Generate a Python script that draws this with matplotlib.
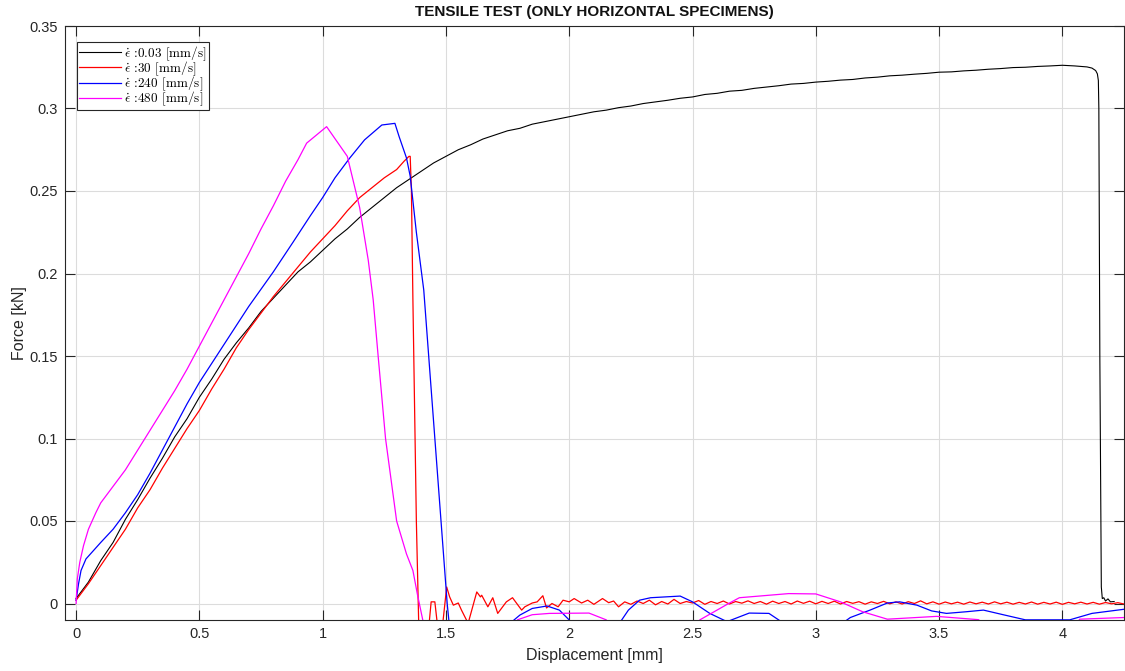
import matplotlib
matplotlib.use("Agg")
import matplotlib.pyplot as plt
from matplotlib.ticker import FuncFormatter, MultipleLocator

plt.rcParams['font.family'] = ['Liberation Sans', 'DejaVu Sans']
plt.rcParams['mathtext.fontset'] = 'cm'

# ---------------- data ----------------
labels = [r'$\dot{\epsilon}$ :0.03 [mm/s]',
          r'$\dot{\epsilon}$ :30 [mm/s]',
          r'$\dot{\epsilon}$ :240 [mm/s]',
          r'$\dot{\epsilon}$ :480 [mm/s]']
colors = ['#000000', '#ff0000', '#0000ff', '#ff00ff']

x_003 = [0.00, 0.05, 0.10, 0.15, 0.20, 0.25, 0.30, 0.35, 0.40, 0.45,
         0.50, 0.55, 0.60, 0.65, 0.70, 0.75, 0.80, 0.85, 0.90, 0.95,
         1.00, 1.05, 1.10, 1.15, 1.20, 1.25, 1.30, 1.35, 1.40, 1.45,
         1.50, 1.55, 1.60, 1.65, 1.70, 1.75, 1.80, 1.85, 1.90, 1.95,
         2.00, 2.05, 2.10, 2.15, 2.20, 2.25, 2.30, 2.35, 2.40, 2.45,
         2.50, 2.55, 2.60, 2.65, 2.70, 2.75, 2.80, 2.85, 2.90, 2.95,
         3.00, 3.05, 3.10, 3.15, 3.20, 3.25, 3.30, 3.35, 3.40, 3.45,
         3.50, 3.55, 3.60, 3.65, 3.70, 3.75, 3.80, 3.85, 3.90, 3.95,
         4.00, 4.05, 4.10, 4.12, 4.135, 4.142, 4.146, 4.148, 4.152, 4.158,
         4.162, 4.168, 4.175, 4.185, 4.195, 4.21]
f_003 = [0.003, 0.013, 0.026, 0.037, 0.051, 0.063, 0.076, 0.088, 0.101, 0.112,
         0.125, 0.136, 0.148, 0.158, 0.167, 0.177, 0.185, 0.193, 0.201, 0.207,
         0.214, 0.221, 0.227, 0.234, 0.240, 0.246, 0.252, 0.257, 0.262, 0.267,
         0.271, 0.275, 0.278, 0.2815, 0.284, 0.2865, 0.288, 0.2905, 0.292, 0.2935,
         0.295, 0.2965, 0.298, 0.299, 0.3005, 0.3015, 0.303, 0.304, 0.305, 0.3062,
         0.307, 0.3085, 0.3092, 0.3105, 0.311, 0.3122, 0.313, 0.3138, 0.3148, 0.3152,
         0.316, 0.3165, 0.3172, 0.3176, 0.3185, 0.319, 0.3198, 0.3202, 0.3208, 0.3213,
         0.322, 0.3222, 0.3228, 0.3232, 0.3238, 0.3242, 0.3248, 0.3250, 0.3255, 0.3258,
         0.3262, 0.3258, 0.3252, 0.3245, 0.323, 0.321, 0.317, 0.300, 0.150, 0.010,
         0.003, 0.0035, 0.0015, 0.0028, 0.001, 0.0012]

x_30 = [0.00, 0.05, 0.10, 0.15, 0.20, 0.25, 0.30, 0.35, 0.40, 0.45,
        0.50, 0.55, 0.60, 0.65, 0.70, 0.75, 0.80, 0.85, 0.90, 0.95,
        1.00, 1.05, 1.10, 1.15, 1.20, 1.25, 1.30, 1.33, 1.35, 1.355,
        1.36, 1.366, 1.38, 1.39, 1.43, 1.44, 1.455, 1.467, 1.485, 1.503,
        1.515, 1.53, 1.55, 1.563, 1.59, 1.625, 1.64, 1.645, 1.67, 1.69,
        1.71, 1.745, 1.77, 1.807, 1.82, 1.85, 1.87, 1.893, 1.908, 1.93,
        1.955, 1.975, 2.00, 2.02, 2.05, 2.075, 2.10, 2.135, 2.16, 2.18,
        2.20, 2.225, 2.25, 2.275, 2.30, 2.325, 2.35, 2.375, 2.40, 2.425,
        2.45, 2.475, 2.50, 2.525, 2.55, 2.575, 2.60, 2.625, 2.65, 2.675,
        2.70, 2.725, 2.75, 2.775, 2.80, 2.825, 2.85, 2.875, 2.90, 2.925,
        2.95, 2.975, 3.00, 3.025, 3.05, 3.075, 3.10, 3.125, 3.15, 3.175,
        3.20, 3.225, 3.25, 3.275, 3.30, 3.325, 3.35, 3.375, 3.40, 3.425,
        3.45, 3.475, 3.50, 3.525, 3.55, 3.575, 3.60, 3.625, 3.65, 3.675,
        3.70, 3.725, 3.75, 3.775, 3.80, 3.825, 3.85, 3.875, 3.90, 3.925,
        3.95, 3.975, 4.00, 4.025, 4.05, 4.075, 4.10, 4.125, 4.15, 4.175,
        4.20, 4.225, 4.25]
f_30 = [0.002, 0.012, 0.023, 0.034, 0.045, 0.058, 0.069, 0.082, 0.094, 0.106,
        0.117, 0.130, 0.142, 0.155, 0.166, 0.176, 0.186, 0.195, 0.204, 0.213,
        0.221, 0.229, 0.238, 0.246, 0.252, 0.258, 0.263, 0.268, 0.271, 0.271,
        0.250, 0.184, 0.050, -0.015, -0.015, 0.001, 0.001, -0.015, -0.015, 0.010,
        0.004, -0.001, 0.0003, -0.004, -0.012, 0.007, 0.004, 0.005, -0.002, 0.0035,
        -0.006, 0.001, 0.0035, -0.004, -0.002, 0.0003, 0.001, 0.0047, -0.0027, 0.0,
        -0.002, 0.002, 0.001, 0.003, 0.0003, 0.002, -0.0005, 0.003, 0.0005, 0.0015,
        -0.002, 0.001, -0.0005, 0.0015, 0.0, 0.002, -0.0008, 0.0012, -0.0003, 0.0025,
        0.0, 0.0012, 0.0003, 0.0018, -0.0005, 0.0012, 0.0, 0.0015, -0.0003, 0.0012,
        0.0002, 0.0016, 0.0, 0.0012, -0.0004, 0.0014, 0.0, 0.0012, -0.0003, 0.0015,
        0.0001, 0.0014, -0.0002, 0.0013, 0.0, 0.0014, -0.0003, 0.0012, 0.0001, 0.0011,
        -0.0004, 0.0010, 0.0, 0.0013, -0.0002, 0.0010, -0.0003, 0.0011, 0.0, 0.0016,
        -0.0002, 0.0010, -0.0004, 0.0009, -0.0002, 0.0008, -0.0004, 0.0009, -0.0002, 0.0008,
        -0.0003, 0.0010, -0.0002, 0.0008, -0.0004, 0.0007, -0.0003, 0.0009, -0.0004, 0.0007,
        -0.0003, 0.0008, -0.0005, 0.0007, -0.0002, 0.0008, -0.0003, 0.0007, -0.0004, 0.0006,
        -0.0002, 0.0005, -0.0003]

x_240 = [0.00, 0.01, 0.02, 0.04, 0.07, 0.10, 0.15, 0.20, 0.25, 0.30,
         0.35, 0.40, 0.45, 0.50, 0.60, 0.70, 0.80, 0.88, 0.95, 1.00,
         1.05, 1.11, 1.17, 1.24, 1.293, 1.31, 1.34, 1.355, 1.38, 1.41,
         1.43, 1.455, 1.48, 1.505, 1.515, 1.60, 1.76, 1.80, 1.85, 1.91,
         1.96, 2.00, 2.02, 2.19, 2.24, 2.285, 2.33, 2.45, 2.50, 2.57,
         2.64, 2.73, 2.81, 2.86, 2.95, 3.08, 3.14, 3.22, 3.29, 3.34,
         3.41, 3.47, 3.53, 3.61, 3.68, 3.76, 3.85, 3.95, 4.03, 4.12,
         4.25]
f_240 = [0.002, 0.012, 0.020, 0.027, 0.032, 0.037, 0.045, 0.055, 0.066, 0.079,
         0.093, 0.107, 0.121, 0.134, 0.157, 0.180, 0.201, 0.219, 0.235, 0.246,
         0.258, 0.270, 0.281, 0.290, 0.291, 0.283, 0.270, 0.259, 0.225, 0.190,
         0.150, 0.100, 0.050, 0.000, -0.015, -0.015, -0.012, -0.007, -0.003, -0.0015,
         -0.004, -0.010, -0.015, -0.015, -0.004, 0.002, 0.0035, 0.0045, 0.001, -0.006,
         -0.011, -0.0058, -0.006, -0.011, -0.015, -0.015, -0.0085, -0.004, 0.0003, 0.001,
         -0.001, -0.0045, -0.006, -0.005, -0.004, -0.0068, -0.0099, -0.0099, -0.0099, -0.006,
         -0.0035]

x_480 = [0.00, 0.005, 0.015, 0.03, 0.05, 0.08, 0.10, 0.15, 0.20, 0.25,
         0.30, 0.35, 0.40, 0.45, 0.50, 0.55, 0.60, 0.65, 0.70, 0.75,
         0.80, 0.85, 0.90, 0.935, 1.016, 1.10, 1.15, 1.185, 1.205, 1.225,
         1.255, 1.30, 1.34, 1.366, 1.385, 1.406, 1.42, 1.78, 1.79, 1.85,
         1.92, 2.08, 2.15, 2.17, 2.50, 2.53, 2.65, 2.69, 2.89, 3.00,
         3.10, 3.19, 3.29, 3.49, 3.66, 3.70, 4.05, 4.07, 4.25]
f_480 = [0.000, 0.015, 0.025, 0.035, 0.045, 0.055, 0.061, 0.071, 0.081, 0.093,
         0.105, 0.117, 0.129, 0.142, 0.156, 0.170, 0.184, 0.198, 0.212, 0.227,
         0.241, 0.256, 0.269, 0.279, 0.289, 0.271, 0.240, 0.208, 0.184, 0.150,
         0.100, 0.050, 0.030, 0.020, 0.005, -0.010, -0.015, -0.015, -0.0099, -0.0068,
         -0.006, -0.0058, -0.0099, -0.015, -0.015, -0.0099, 0.0003, 0.0035, 0.006, 0.0058,
         0.001, -0.005, -0.0095, -0.0078, -0.0098, -0.015, -0.015, -0.0095, -0.0085]

xs = [x_003, x_30, x_240, x_480]
fs = [f_003, f_30, f_240, f_480]
widths = [0.8, 0.9, 0.9, 0.9]

title = 'TENSILE TEST (ONLY HORIZONTAL SPECIMENS)'
xlabel = 'Displacement [mm]'
ylabel = 'Force [kN]'

# ---------------- figure ----------------
txt = '#262626'
fig = plt.figure(figsize=(11.25, 6.71), dpi=100)
ax = fig.add_axes([65 / 1125, 51 / 671, 1059 / 1125, 594 / 671])

for x, f, c, lab, lw in zip(xs, fs, colors, labels, widths):
    ax.plot(x, f, color=c, lw=lw, label=lab)

ax.set_xlim(-0.045, 4.25)
ax.set_ylim(-0.01, 0.35)
ax.xaxis.set_major_locator(MultipleLocator(0.5))
ax.yaxis.set_major_locator(MultipleLocator(0.05))
fmt = FuncFormatter(lambda v, p: ('%g' % round(v, 4)))
ax.xaxis.set_major_formatter(fmt)
ax.yaxis.set_major_formatter(fmt)

ax.grid(True, color='#dcdcdc', lw=0.8)
ax.set_axisbelow(True)
ax.tick_params(direction='in', length=7, width=0.8, colors=txt,
               labelsize=10.5, top=True, right=True, pad=5)
for s in ax.spines.values():
    s.set_color(txt)
    s.set_linewidth(0.8)

ax.set_title(title, fontsize=11, fontweight='bold', color='#111111', pad=7)
ax.set_xlabel(xlabel, fontsize=11.5, color=txt, labelpad=5)
ax.set_ylabel(ylabel, fontsize=11.5, color=txt, labelpad=2)

leg = ax.legend(loc='upper left', bbox_to_anchor=(0.0113, 0.973), borderaxespad=0,
                prop={'family': 'cmr10', 'size': 9.5},
                handlelength=3.2, handletextpad=0.2, labelspacing=-0.25,
                borderpad=0.15, fancybox=False, framealpha=1, edgecolor=txt)
leg.get_frame().set_linewidth(0.8)

fig.savefig('out.png', dpi=100)
